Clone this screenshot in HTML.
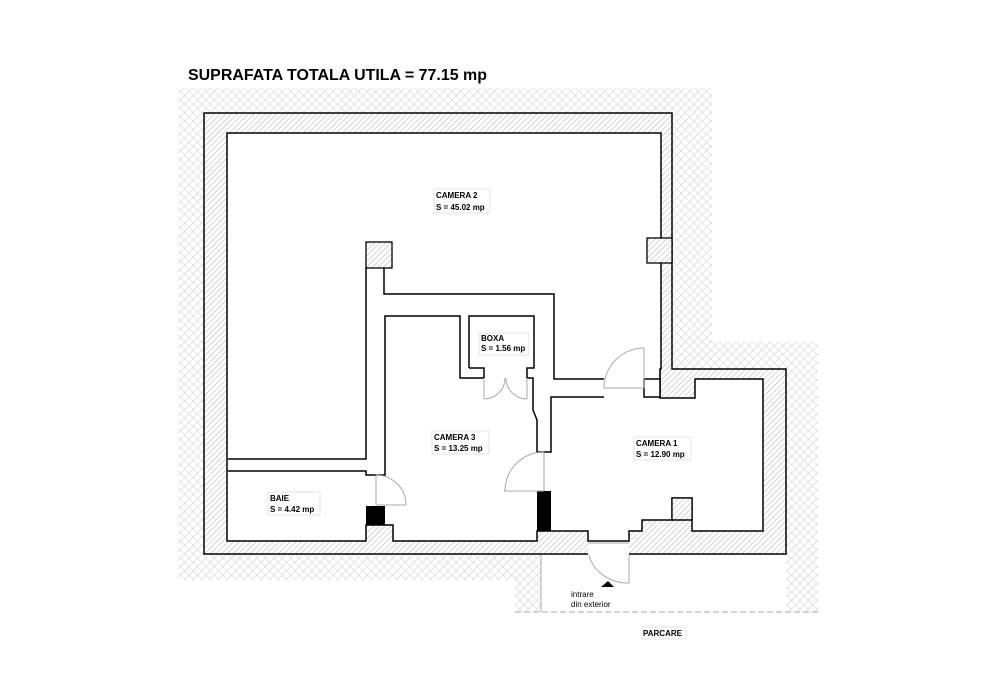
<!DOCTYPE html>
<html><head><meta charset="utf-8"><style>
html,body{margin:0;padding:0;background:#fff;width:990px;height:700px;overflow:hidden}
svg{display:block}
text{font-family:"Liberation Sans",Arial,sans-serif}
.lb{font-size:8px;font-weight:bold;fill:#000}
</style></head><body>
<svg width="990" height="700" viewBox="0 0 990 700" xmlns="http://www.w3.org/2000/svg">
<defs>
<pattern id="gnd" width="6" height="6" patternUnits="userSpaceOnUse" patternTransform="rotate(45)">
<rect width="6" height="6" fill="#fff"/>
<line x1="0" y1="0" x2="0" y2="6" stroke="#c8c8c8" stroke-width="1"/>
<line x1="0" y1="3" x2="6" y2="3" stroke="#dcdcdc" stroke-width="0.7"/>
</pattern>
<pattern id="wall" width="4" height="4" patternUnits="userSpaceOnUse" patternTransform="rotate(45)">
<rect width="4" height="4" fill="#fff"/>
<line x1="0" y1="0" x2="0" y2="4" stroke="#999" stroke-width="0.8"/>
</pattern>
</defs>
<text x="188" y="80" font-size="16" font-weight="bold" textLength="299" lengthAdjust="spacingAndGlyphs">SUPRAFATA TOTALA UTILA = 77.15 mp</text>

<rect x="178" y="88" width="534" height="492" fill="url(#gnd)"/>
<rect x="692" y="342" width="126" height="27" fill="url(#gnd)"/>
<rect x="786" y="342" width="32" height="270" fill="url(#gnd)"/>
<rect x="515" y="555" width="26" height="57" fill="url(#gnd)"/>
<rect x="541" y="554" width="245" height="60" fill="#fff"/>

<polygon points="204,113 672,113 672,369 786,369 786,554 204,554" fill="url(#wall)" stroke="#000" stroke-width="1.5"/>
<rect x="588" y="540" width="41" height="15.5" fill="#fff"/>
<polygon points="227,133 661,133 661,369 660,369 660,398 695,398 695,379 763,379 763,531 692,531 692,498 672,498 672,520 642,520 642,531 629,531 629,541 588,541 588,531 537,531 537,541 393,541 393,525 366,525 366,541 227,541" fill="#fff" stroke="#000" stroke-width="1.5"/>
<line x1="588" y1="554" x2="629" y2="554" stroke="#fff" stroke-width="3"/>
<line x1="588" y1="543" x2="629" y2="543" stroke="#aaa" stroke-width="1"/>
<rect x="366" y="242" width="26" height="26" fill="url(#wall)" stroke="#000" stroke-width="1.3"/>
<rect x="647" y="238" width="25" height="25" fill="url(#wall)" stroke="#000" stroke-width="1.3"/>
<rect x="672" y="498" width="20" height="22" fill="url(#wall)" stroke="#000" stroke-width="1.3"/>
<line x1="672" y1="520" x2="692" y2="520" stroke="#000" stroke-width="1.3"/>
<line x1="660" y1="369" x2="660" y2="398" stroke="#000" stroke-width="1.3"/>

<g fill="none" stroke="#000" stroke-width="1.5">
<polyline points="366,268 366,459 228,459"/>
<polyline points="228,471 366,471 366,475 385,475 385,316 460,316 460,378 484,378"/>
<polyline points="384,268 384,294 554,294 554,379 604,379"/>
<polyline points="604,397 551,397 551,452 537,452 537,420 533,410 533,378 527,378"/>
<polyline points="469,368 469,316 534,316 534,368 527,368 527,378"/>
<polyline points="469,368 484,368 484,378"/>
<rect x="644" y="379" width="16" height="18" fill="#fff"/>
</g>
<rect x="366" y="506" width="19" height="19" fill="#000"/>
<rect x="537" y="491" width="14" height="40" fill="#000"/>

<g fill="none" stroke="#aaa" stroke-width="1">
<line x1="376" y1="475" x2="376" y2="505"/><line x1="376" y1="505" x2="406" y2="505"/>
<path d="M376,475 A30,30 0 0 1 406,505"/>
<line x1="544" y1="452" x2="544" y2="491"/><line x1="504" y1="491" x2="544" y2="491"/>
<path d="M544,452 A39,39 0 0 0 505,491"/>
<line x1="644" y1="348" x2="644" y2="388"/><line x1="604" y1="388" x2="644" y2="388"/>
<path d="M644,348 A40,40 0 0 0 604,388"/>
<line x1="484" y1="378" x2="484" y2="399"/><line x1="527" y1="378" x2="527" y2="399"/>
<path d="M484,399 A21,21 0 0 0 505,378"/>
<path d="M527,399 A21,21 0 0 1 506,378"/>
<line x1="629" y1="555" x2="629" y2="583"/>
<path d="M589,555 A40,36 0 0 0 629,583"/>
<line x1="541" y1="555" x2="541" y2="612"/>
<line x1="515" y1="612" x2="818" y2="612" stroke-dasharray="6,3"/>
</g>
<polygon points="601,587 608,581 614,587" fill="#000"/>
<text x="571" y="597" font-size="8">intrare</text>
<text x="571" y="607" font-size="8">din exterior</text>

<g fill="#fff" stroke="#ddd" stroke-width="0.8">
<rect x="434" y="189" width="56" height="24"/>
<rect x="479" y="333" width="50" height="22"/>
<rect x="432" y="431" width="57" height="23"/>
<rect x="634" y="437" width="57" height="23"/>
<rect x="268" y="492" width="52" height="23"/>
<rect x="642" y="627" width="44" height="12"/>
</g>
<text class="lb" x="436" y="198">CAMERA 2</text><text class="lb" x="436" y="210">S = 45.02 mp</text>
<text class="lb" x="481" y="341">BOXA</text><text class="lb" x="481" y="351">S = 1.56 mp</text>
<text class="lb" x="434" y="440">CAMERA 3</text><text class="lb" x="434" y="451">S = 13.25 mp</text>
<text class="lb" x="636" y="446">CAMERA 1</text><text class="lb" x="636" y="457">S = 12.90 mp</text>
<text class="lb" x="270" y="501">BAIE</text><text class="lb" x="270" y="512">S = 4.42 mp</text>
<text class="lb" x="643" y="636">PARCARE</text>
</svg>
</body></html>
